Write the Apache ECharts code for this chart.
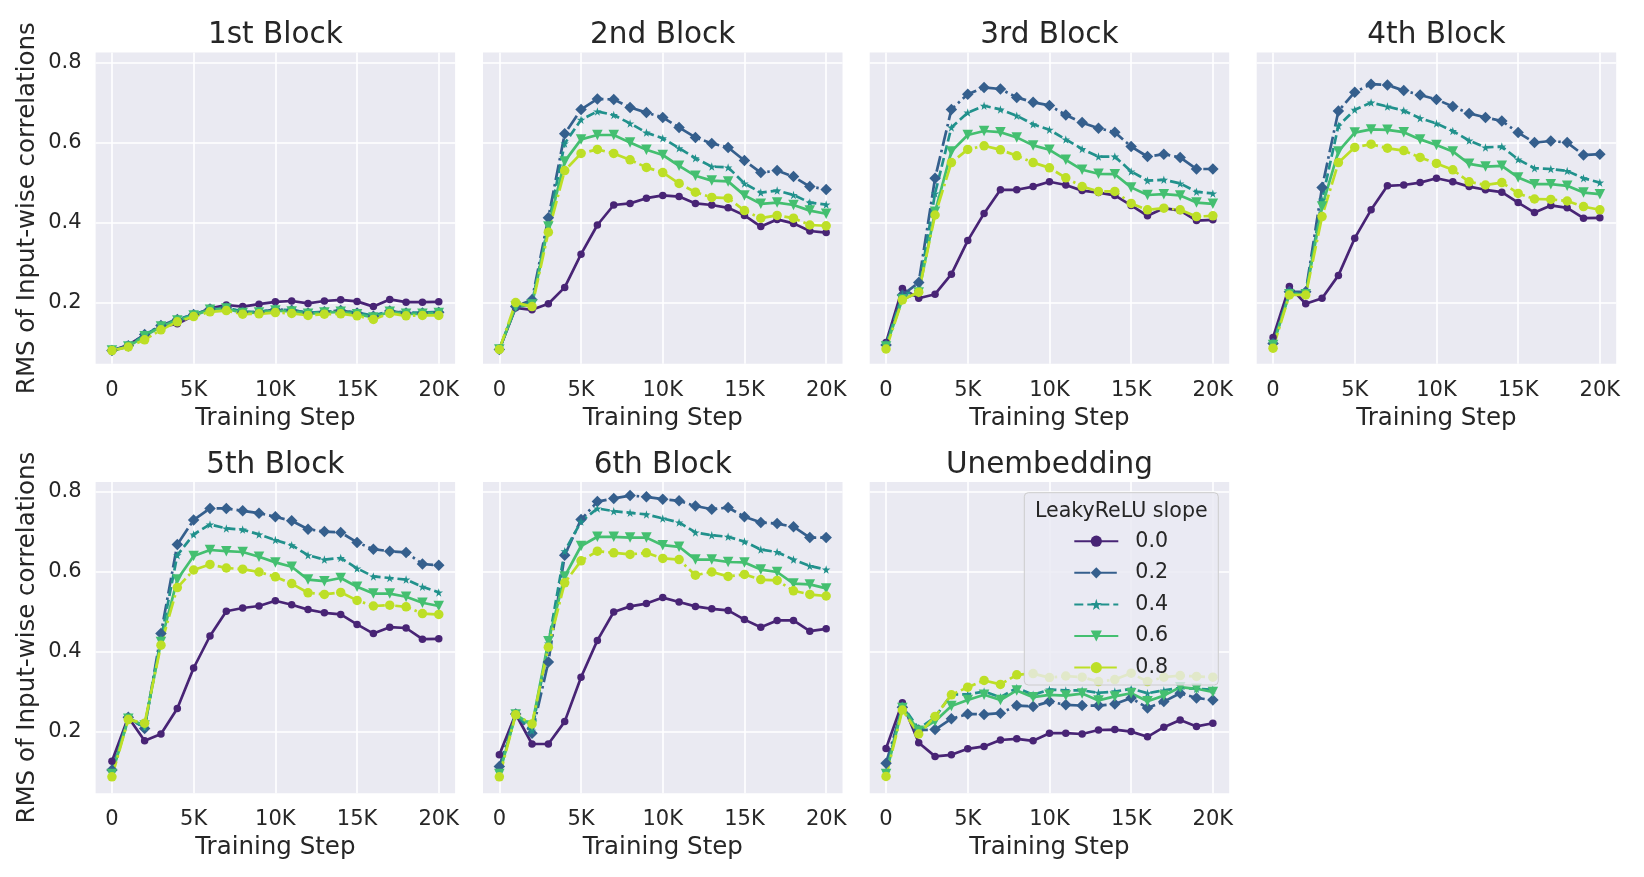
<!DOCTYPE html>
<html><head><meta charset="utf-8">
<script src="https://cdn.jsdelivr.net/npm/echarts@6/dist/echarts.min.js"></script>
<style>html,body{margin:0;padding:0;background:#fff}#c{width:1644px;height:877px}</style>
</head><body><div id="c"></div>
<script>
// ---- data ----
const steps = [0,1000,2000,3000,4000,5000,6000,7000,8000,9000,10000,11000,12000,13000,14000,15000,16000,17000,18000,19000,20000];
const xTicks = [0,5000,10000,15000,20000];
const yTicks = [0.2,0.4,0.6,0.8];
const slopes = ['0.0','0.2','0.4','0.6','0.8'];
const panelTitles = ['1st Block','2nd Block','3rd Block','4th Block','5th Block','6th Block','Unembedding'];

const b1_s00 = [0.080,0.094,0.119,0.140,0.147,0.167,0.186,0.194,0.190,0.196,0.202,0.204,0.198,0.204,0.207,0.203,0.190,0.208,0.201,0.201,0.202];
const b1_s02 = [0.080,0.092,0.120,0.143,0.158,0.170,0.184,0.187,0.176,0.176,0.183,0.181,0.174,0.177,0.180,0.174,0.166,0.179,0.174,0.174,0.176];
const b1_s04 = [0.080,0.091,0.119,0.142,0.158,0.170,0.184,0.188,0.177,0.177,0.183,0.181,0.175,0.177,0.180,0.175,0.167,0.179,0.175,0.175,0.177];
const b1_s06 = [0.080,0.090,0.116,0.140,0.155,0.168,0.182,0.185,0.174,0.175,0.180,0.178,0.172,0.175,0.177,0.171,0.163,0.177,0.172,0.172,0.174];
const b1_s08 = [0.080,0.089,0.107,0.132,0.152,0.165,0.177,0.180,0.171,0.172,0.175,0.173,0.168,0.171,0.172,0.167,0.158,0.173,0.167,0.168,0.168];

const b2_s00 = [0.083,0.187,0.182,0.197,0.238,0.321,0.394,0.444,0.448,0.461,0.468,0.465,0.448,0.444,0.437,0.418,0.390,0.408,0.398,0.379,0.375];
const b2_s02 = [0.083,0.190,0.207,0.412,0.622,0.683,0.709,0.708,0.688,0.675,0.663,0.638,0.613,0.598,0.588,0.555,0.525,0.530,0.515,0.490,0.483];
const b2_s04 = [0.083,0.190,0.200,0.395,0.598,0.657,0.678,0.669,0.648,0.625,0.611,0.586,0.561,0.540,0.538,0.498,0.475,0.480,0.469,0.450,0.445];
const b2_s06 = [0.083,0.190,0.195,0.390,0.553,0.608,0.619,0.619,0.600,0.582,0.569,0.542,0.517,0.505,0.503,0.468,0.447,0.450,0.444,0.430,0.422];
const b2_s08 = [0.083,0.200,0.190,0.376,0.530,0.573,0.583,0.573,0.557,0.538,0.525,0.498,0.476,0.463,0.461,0.430,0.411,0.418,0.411,0.394,0.392];

const b3_s00 = [0.100,0.235,0.211,0.221,0.271,0.355,0.423,0.482,0.482,0.490,0.502,0.494,0.480,0.475,0.468,0.443,0.417,0.436,0.430,0.405,0.407];
const b3_s02 = [0.094,0.219,0.250,0.511,0.683,0.721,0.738,0.734,0.713,0.701,0.693,0.669,0.650,0.636,0.626,0.590,0.565,0.571,0.563,0.534,0.534];
const b3_s04 = [0.094,0.219,0.232,0.473,0.638,0.675,0.692,0.683,0.667,0.646,0.632,0.608,0.584,0.565,0.565,0.528,0.505,0.507,0.498,0.477,0.473];
const b3_s06 = [0.090,0.208,0.225,0.427,0.578,0.619,0.629,0.626,0.613,0.593,0.582,0.557,0.532,0.522,0.521,0.488,0.469,0.471,0.468,0.450,0.447];
const b3_s08 = [0.084,0.207,0.226,0.419,0.550,0.583,0.592,0.582,0.567,0.550,0.537,0.512,0.490,0.478,0.478,0.448,0.432,0.436,0.432,0.415,0.417];

const b4_s00 = [0.113,0.240,0.197,0.211,0.268,0.361,0.432,0.492,0.494,0.500,0.511,0.502,0.490,0.482,0.476,0.450,0.425,0.443,0.437,0.411,0.412];
const b4_s02 = [0.098,0.227,0.227,0.488,0.679,0.726,0.746,0.744,0.730,0.719,0.708,0.690,0.673,0.663,0.654,0.625,0.600,0.604,0.600,0.569,0.571];
const b4_s04 = [0.098,0.223,0.223,0.457,0.642,0.682,0.700,0.690,0.680,0.661,0.648,0.629,0.605,0.588,0.590,0.558,0.536,0.534,0.529,0.511,0.500];
const b4_s06 = [0.094,0.221,0.221,0.440,0.578,0.625,0.633,0.632,0.626,0.608,0.594,0.578,0.547,0.540,0.542,0.513,0.496,0.496,0.492,0.475,0.471];
const b4_s08 = [0.086,0.219,0.219,0.415,0.550,0.588,0.596,0.586,0.580,0.563,0.548,0.532,0.502,0.494,0.500,0.473,0.459,0.458,0.454,0.440,0.432];

const b5_s00 = [0.127,0.237,0.178,0.195,0.259,0.360,0.440,0.502,0.510,0.515,0.528,0.518,0.506,0.498,0.494,0.469,0.446,0.462,0.460,0.432,0.433];
const b5_s02 = [0.105,0.237,0.209,0.446,0.669,0.730,0.759,0.759,0.753,0.747,0.738,0.728,0.707,0.701,0.699,0.674,0.657,0.652,0.649,0.620,0.617];
const b5_s04 = [0.099,0.233,0.212,0.433,0.642,0.694,0.719,0.709,0.706,0.694,0.680,0.667,0.642,0.631,0.635,0.609,0.589,0.585,0.581,0.563,0.549];
const b5_s06 = [0.095,0.233,0.216,0.425,0.581,0.640,0.655,0.652,0.650,0.638,0.624,0.613,0.581,0.577,0.585,0.563,0.546,0.546,0.538,0.523,0.515];
const b5_s08 = [0.088,0.231,0.222,0.417,0.561,0.605,0.619,0.610,0.607,0.600,0.588,0.571,0.548,0.544,0.549,0.529,0.515,0.517,0.513,0.496,0.494];

const b6_s00 = [0.143,0.245,0.170,0.170,0.226,0.337,0.429,0.500,0.514,0.521,0.536,0.525,0.514,0.508,0.504,0.481,0.462,0.479,0.479,0.452,0.458];
const b6_s02 = [0.114,0.245,0.197,0.375,0.642,0.731,0.776,0.784,0.791,0.788,0.782,0.778,0.765,0.757,0.761,0.738,0.724,0.721,0.713,0.686,0.686];
const b6_s04 = [0.099,0.245,0.203,0.421,0.652,0.726,0.759,0.752,0.748,0.744,0.734,0.724,0.699,0.692,0.688,0.676,0.656,0.650,0.631,0.615,0.606];
const b6_s06 = [0.095,0.244,0.216,0.427,0.589,0.665,0.688,0.688,0.686,0.686,0.667,0.663,0.631,0.631,0.625,0.624,0.606,0.600,0.571,0.569,0.559];
const b6_s08 = [0.088,0.243,0.220,0.412,0.573,0.628,0.652,0.648,0.644,0.648,0.634,0.631,0.592,0.600,0.589,0.594,0.581,0.579,0.553,0.544,0.540];

const ue_s00 = [0.159,0.273,0.173,0.139,0.143,0.158,0.164,0.180,0.183,0.178,0.197,0.197,0.195,0.205,0.206,0.201,0.188,0.212,0.230,0.214,0.222];
const ue_s02 = [0.122,0.262,0.205,0.206,0.233,0.245,0.244,0.247,0.266,0.264,0.276,0.268,0.266,0.266,0.270,0.285,0.260,0.276,0.297,0.285,0.280];
const ue_s04 = [0.099,0.266,0.208,0.237,0.294,0.294,0.301,0.287,0.310,0.293,0.306,0.304,0.304,0.298,0.301,0.308,0.297,0.304,0.310,0.308,0.306];
const ue_s06 = [0.095,0.260,0.203,0.227,0.265,0.280,0.293,0.280,0.304,0.287,0.293,0.291,0.296,0.279,0.289,0.297,0.277,0.291,0.312,0.308,0.300];
const ue_s08 = [0.089,0.255,0.195,0.239,0.293,0.312,0.329,0.319,0.343,0.346,0.336,0.340,0.337,0.326,0.331,0.347,0.326,0.337,0.341,0.339,0.337];

const panels = [
  [b1_s00,b1_s02,b1_s04,b1_s06,b1_s08],
  [b2_s00,b2_s02,b2_s04,b2_s06,b2_s08],
  [b3_s00,b3_s02,b3_s04,b3_s06,b3_s08],
  [b4_s00,b4_s02,b4_s04,b4_s06,b4_s08],
  [b5_s00,b5_s02,b5_s04,b5_s06,b5_s08],
  [b6_s00,b6_s02,b6_s04,b6_s06,b6_s08],
  [ue_s00,ue_s02,ue_s04,ue_s06,ue_s08]
];

// ---- styling / layout ----
const FONT = 'DejaVu Sans';
const TXT = '#262626';
const STAR = 'path://M50,0 L61,35 L98,35 L68,57 L79,91 L50,70 L21,91 L32,57 L2,35 L39,35 Z';
const styles = [
  {color:'#482475', symbol:'circle', size:7.5, dash:'solid'},
  {color:'#355f8d', symbol:'diamond', size:11.5, dash:[16,4,2.5,4]},
  {color:'#21918c', symbol:STAR, size:8.5, dash:[9,4]},
  {color:'#44bf70', symbol:'triangle', rotate:180, size:10.5, dash:'solid'},
  {color:'#bddf26', symbol:'circle', size:9.5, dash:[16,4,2.5,4]}
];
const colLeft = [95.6, 483, 869.7, 1256.7];
const rowTop = [52.6, 482];
const W = 359.5, H = 311.2;

const grids = [], xAxes = [], yAxes = [], series = [], graphics = [];
panels.forEach((arrs, p) => {
  const r = Math.floor(p / 4), c = p % 4;
  grids.push({left: colLeft[c], top: rowTop[r], width: W, height: H,
    show: true, backgroundColor: '#EAEAF2', borderWidth: 0, outerBoundsMode: 'none'});
  xAxes.push({type:'value', gridIndex:p, min:-1000, max:21000,
    axisLine:{show:false}, axisTick:{show:false, customValues:xTicks},
    axisLabel:{customValues:xTicks, formatter:v => v === 0 ? '0' : (v/1000) + 'K',
      fontSize:21, color:TXT, fontFamily:FONT, margin:16},
    splitLine:{show:true, lineStyle:{color:'#ffffff', width:1.6}},
    name:'Training Step', nameLocation:'middle', nameGap:42,
    nameTextStyle:{fontSize:24.5, color:TXT, fontFamily:FONT}});
  yAxes.push({type:'value', gridIndex:p, min:0.047, max:0.825,
    axisLine:{show:false}, axisTick:{show:false, customValues:yTicks},
    axisLabel:{show: c === 0, customValues:yTicks, formatter:v => v.toFixed(1),
      fontSize:21, color:TXT, fontFamily:FONT, margin:14},
    splitLine:{show:true, lineStyle:{color:'#ffffff', width:1.6}},
    name: c === 0 ? 'RMS of Input-wise correlations' : '',
    nameLocation:'middle', nameRotate:90, nameGap:55,
    nameTextStyle:{fontSize:24.5, color:TXT, fontFamily:FONT}});
  arrs.forEach((arr, j) => {
    const st = styles[j];
    series.push({type:'line', name:slopes[j], xAxisIndex:p, yAxisIndex:p,
      data: steps.map((s, k) => [s, arr[k]]),
      symbol: st.symbol, symbolSize: st.size, symbolRotate: st.rotate || 0,
      showAllSymbol: true, clip: false,
      lineStyle:{color: st.color, width: 2.7, type: st.dash},
      itemStyle:{color: st.color},
      emphasis:{disabled:true}, animation:false});
  });
  graphics.push({type:'text', x: colLeft[c] + W/2, y: rowTop[r] - 32, z: 20,
    style:{text: panelTitles[p], fontSize:29.5, fontFamily:FONT, fill:TXT, textAlign:'center', textVerticalAlign:'top'}});
});

// legend frame + title
graphics.push({type:'rect', shape:{x:1024.3, y:492.7, width:194, height:192.3, r:4}, z:10,
  style:{fill:'rgba(234,234,242,0.8)', stroke:'#cccccc', lineWidth:1}});
graphics.push({type:'text', x:1121.3, y:511.5, z:12,
  style:{text:'LeakyReLU slope', fontSize:20.6, fontFamily:FONT, fill:TXT, textAlign:'center', textVerticalAlign:'middle'}});

const chart = echarts.init(document.getElementById('c'), null, {renderer:'canvas'});
chart.setOption({
  animation:false,
  backgroundColor:'#ffffff',
  textStyle:{fontFamily:FONT},
  grid: grids, xAxis: xAxes, yAxis: yAxes, series: series,
  legend:{data: slopes, orient:'vertical', left:1073.3, top:530.7, padding:0,
    itemWidth:44, itemHeight:14, itemGap:10.6, selectedMode:false, z:11,
    textStyle:{fontSize:20.6, color:TXT, fontFamily:FONT, lineHeight:20, padding:[0,0,0,12]}},
  graphic: graphics
});
</script></body></html>
